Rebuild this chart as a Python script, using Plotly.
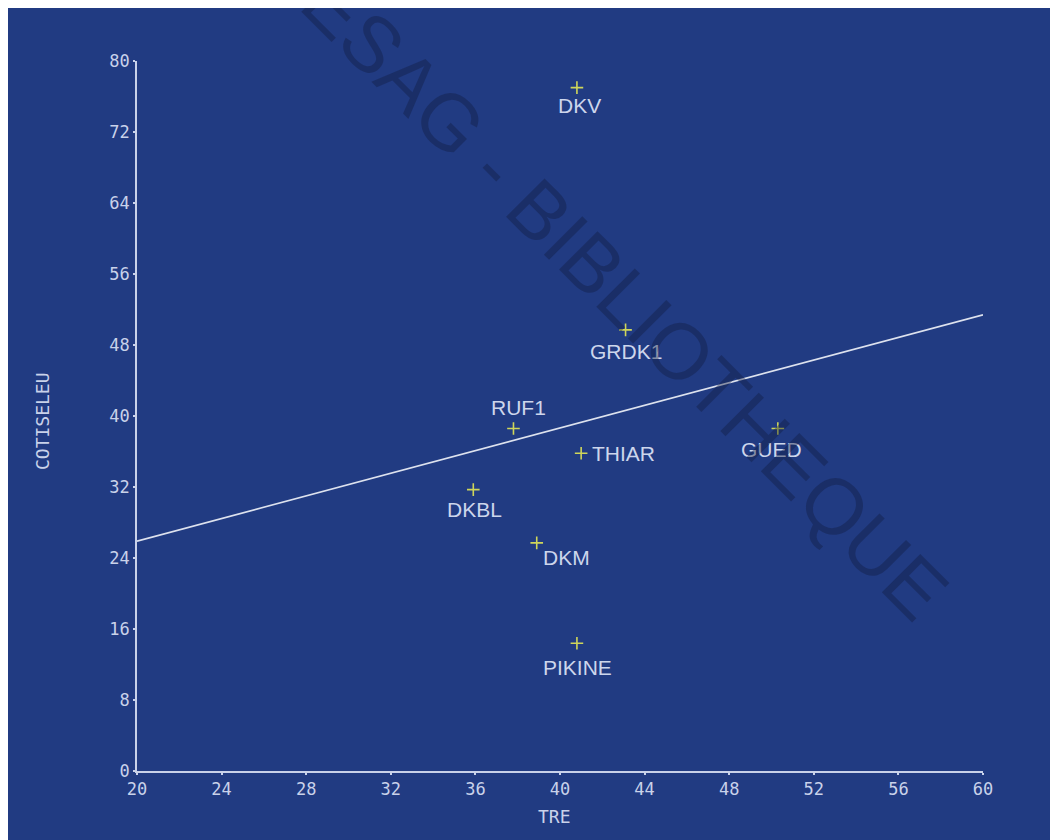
import plotly.graph_objects as go

# Data
names = ["DKV", "GRDK1", "RUF1", "THIAR", "GUED", "DKBL", "DKM", "PIKINE"]
tre = [40.8, 43.1, 37.8, 41.0, 50.3, 35.9, 38.9, 40.8]
cotiseleu = [77.0, 49.7, 38.6, 35.8, 38.6, 31.7, 25.7, 14.4]

# Regression line end points
line_x = [20, 60]
line_y = [25.9, 51.4]

x_ticks = [20, 24, 28, 32, 36, 40, 44, 48, 52, 56, 60]
y_ticks = [0, 8, 16, 24, 32, 40, 48, 56, 64, 72, 80]

# label offsets (pixels) per point: (xshift, yshift, xanchor)
label_style = {
    "DKV": (3, -18, "center"),
    "GRDK1": (0, -22, "center"),
    "RUF1": (5, 21, "center"),
    "THIAR": (9, 0, "left"),
    "GUED": (-6, -21, "center"),
    "DKBL": (1, -20, "center"),
    "DKM": (4, -15, "left"),
    "PIKINE": (1, -24, "center"),
}

BG = "#213b82"
AX = "#c9d2ea"

fig = go.Figure()

fig.add_trace(go.Scatter(
    x=line_x, y=line_y, mode="lines",
    line=dict(color="#dde2ee", width=1.6),
    hoverinfo="skip", showlegend=False,
))

fig.add_trace(go.Scatter(
    x=tre, y=cotiseleu, mode="markers",
    marker=dict(symbol="cross-thin", size=9, line=dict(color="#cfd65a", width=1.6)),
    showlegend=False,
))

for n, xv, yv in zip(names, tre, cotiseleu):
    xs, ys, xa = label_style[n]
    fig.add_annotation(
        x=xv, y=yv, text=n, showarrow=False,
        xshift=xs, yshift=ys, xanchor=xa, yanchor="middle",
        font=dict(family="Liberation Sans, Arial", size=21, color="#cdd6ec"),
    )

# watermark (page px centre ~ (605, 276)), partly cut by the top edge as in the scan
fig.add_annotation(
    x=(605 - 137) / 846, y=(771 - 276) / 710, xref="paper", yref="paper",
    xanchor="center", yanchor="middle",
    text="CESAG - BIBLIOTHEQUE", showarrow=False, textangle=45,
    font=dict(family="Liberation Sans, Arial", size=79, color="rgba(18,28,62,0.40)"),
)

# axis titles
fig.add_annotation(
    x=(42 - 137) / 846, y=(771 - 421) / 710, xref="paper", yref="paper", text="COTISELEU",
    xanchor="center", yanchor="middle",
    showarrow=False, textangle=-90,
    font=dict(family="DejaVu Sans Mono", size=18, color=AX),
)
fig.add_annotation(
    x=(554 - 137) / 846, y=(771 - 817) / 710, xref="paper", yref="paper", text="TRE",
    xanchor="center", yanchor="middle",
    showarrow=False,
    font=dict(family="DejaVu Sans Mono", size=18, color=AX),
)

axis_common = dict(
    showgrid=False, zeroline=False, showline=True, linecolor=AX, linewidth=1.5,
    ticks="outside", ticklen=2, tickwidth=1.5, tickcolor=AX,
    tickfont=dict(family="DejaVu Sans Mono", size=17, color=AX),
)

fig.update_layout(
    width=1050, height=832,
    margin=dict(l=129, r=75, t=53, b=69),
    paper_bgcolor=BG, plot_bgcolor=BG,
    xaxis=dict(range=[20, 60], tickvals=x_ticks, ticktext=[str(v) for v in x_ticks], **axis_common),
    yaxis=dict(range=[0, 80], tickvals=y_ticks, ticktext=[str(v) for v in y_ticks], **axis_common),
    showlegend=False,
)

fig.write_html("out.html")
